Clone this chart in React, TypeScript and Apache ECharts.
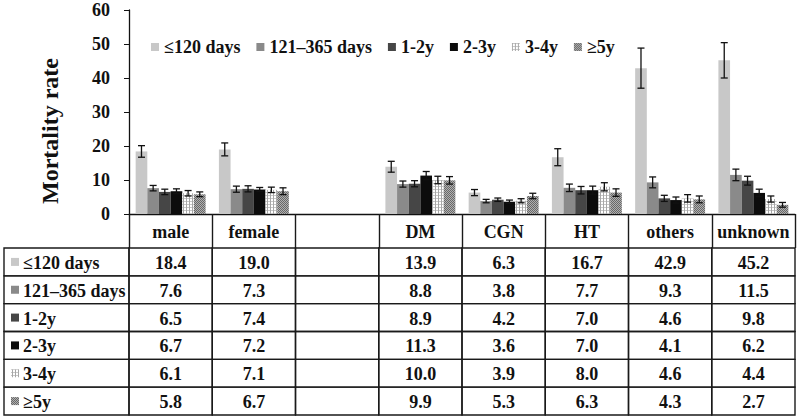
import React, { useEffect, useRef } from 'react';
import * as echarts from 'echarts';

const categories = ['male', 'female', '', 'DM', 'CGN', 'HT', 'others', 'unknown'];
const seriesNames = ['≤120 days', '121–365 days', '1-2y', '2-3y', '3-4y', '≥5y'];

const v120 = [18.4, 19.0, null, 13.9, 6.3, 16.7, 42.9, 45.2];
const v121 = [7.6, 7.3, null, 8.8, 3.8, 7.7, 9.3, 11.5];
const v12 = [6.5, 7.4, null, 8.9, 4.2, 7.0, 4.6, 9.8];
const v23 = [6.7, 7.2, null, 11.3, 3.6, 7.0, 4.1, 6.2];
const v34 = [6.1, 7.1, null, 10.0, 3.9, 8.0, 4.6, 4.4];
const v5 = [5.8, 6.7, null, 9.9, 5.3, 6.3, 4.3, 2.7];

const e120 = [1.7, 1.9, null, 1.6, 0.9, 2.5, 5.9, 5.2];
const e121 = [0.8, 0.9, null, 0.9, 0.5, 1.1, 1.6, 1.7];
const e12 = [0.8, 0.9, null, 0.9, 0.5, 1.1, 0.9, 1.3];
const e23 = [0.7, 0.6, null, 1.2, 0.5, 1.2, 0.9, 1.1];
const e34 = [0.8, 0.8, null, 1.1, 0.6, 1.2, 1.1, 0.9];
const e5 = [0.7, 1.0, null, 1.1, 0.8, 1.1, 1.0, 0.7];

const values = [v120, v121, v12, v23, v34, v5];
const errors = [e120, e121, e12, e23, e34, e5];

const FONT = '"Liberation Serif", "Times New Roman", serif';
const FS = 18;
const GAP = 0.16;

function makePattern(kind: string) {
  const c = document.createElement('canvas');
  const n = kind === 'dots' ? 3 : 4;
  c.width = n;
  c.height = n;
  const ctx = c.getContext('2d')!;
  if (kind === 'dots') {
    ctx.fillStyle = '#ffffff';
    ctx.fillRect(0, 0, n, n);
    ctx.fillStyle = '#a8a8a8';
    ctx.fillRect(0, 0, 1, n);
    ctx.fillStyle = '#c8c8c8';
    ctx.fillRect(1, 0, n - 1, 1);
  } else {
    for (let y = 0; y < n; y++) {
      for (let x = 0; x < n; x++) {
        ctx.fillStyle = (x + y) % 2 === 0 ? '#686868' : '#b0b0b0';
        ctx.fillRect(x, y, 1, 1);
      }
    }
  }
  return { image: c.toDataURL(), repeat: 'repeat', imageWidth: n, imageHeight: n } as any;
}

export default function App() {
  const ref = useRef<HTMLDivElement>(null);
  useEffect(() => {
    if (!ref.current) return;
    const chart = echarts.init(ref.current, undefined, { renderer: 'svg' });
    const colors: any[] = ['#c8c8c8', '#8a8a8a', '#464646', '#0c0c0c', makePattern('dots'), makePattern('check')];

    const barSeries = seriesNames.map((name, i) => ({
      type: 'bar',
      name,
      data: values[i],
      xAxisIndex: 0,
      yAxisIndex: 0,
      barGap: '0%',
      barCategoryGap: (GAP * 100) + '%',
      itemStyle: { color: colors[i] },
      z: 2,
    }));

    const errSeries = seriesNames.map((name, i) => {
      const data: number[][] = [];
      values[i].forEach((v, c) => {
        if (v != null && errors[i][c] != null) data.push([c, v as number, errors[i][c] as number]);
      });
      return {
        type: 'custom',
        name: 'err' + i,
        xAxisIndex: 0,
        yAxisIndex: 0,
        z: 5,
        encode: { x: 0, y: 1 },
        data,
        renderItem: (params: any, api: any) => {
          const x = api.value(0);
          const v = api.value(1);
          const e = api.value(2);
          const catW = api.size([1, 0])[0];
          const groupW = catW * (1 - GAP);
          const bw = groupW / 6;
          const off = -groupW / 2 + bw * (i + 0.5);
          const top = api.coord([x, v + e]);
          const bot = api.coord([x, v - e]);
          const cx = top[0] + off;
          const cap = 3.5;
          const st = { stroke: '#111', lineWidth: 1.3 };
          return {
            type: 'group',
            children: [
              { type: 'line', shape: { x1: cx, y1: top[1], x2: cx, y2: bot[1] }, style: st },
              { type: 'line', shape: { x1: cx - cap, y1: top[1], x2: cx + cap, y2: top[1] }, style: st },
              { type: 'line', shape: { x1: cx - cap, y1: bot[1], x2: cx + cap, y2: bot[1] }, style: st },
            ],
          };
        },
      };
    });

    const cells: { c: number; r: number; text: string }[] = [];
    values.forEach((row, r) => {
      row.forEach((v, c) => {
        cells.push({ c, r, text: v == null ? '' : (v as number).toFixed(1) });
      });
    });

    const tableSeries = {
      type: 'custom',
      name: 'table',
      xAxisIndex: 1,
      yAxisIndex: 1,
      encode: { x: 0, y: 1 },
      data: cells.map((cl) => [cl.c, cl.r]),
      renderItem: (params: any, api: any) => {
        const cl = cells[params.dataIndex];
        const p = api.coord([cl.c, cl.r]);
        const s = api.size([1, 1]);
        return {
          type: 'group',
          children: [
            {
              type: 'rect',
              shape: { x: p[0] - s[0] / 2, y: p[1] - s[1] / 2, width: s[0], height: s[1] },
              style: { fill: 'none', stroke: '#1a1a1a', lineWidth: 1.4 },
            },
            {
              type: 'text',
              x: p[0],
              y: p[1] + 1,
              style: {
                text: cl.text,
                fontSize: FS,
                fontWeight: 'bold',
                fontFamily: FONT,
                fill: '#111',
                align: 'center',
                verticalAlign: 'middle',
              },
            },
          ],
        };
      },
    };

    const labelSeries = {
      type: 'custom',
      name: 'labels',
      xAxisIndex: 2,
      yAxisIndex: 2,
      encode: { x: 0, y: 1 },
      data: seriesNames.map((_, r) => [0, r]),
      renderItem: (params: any, api: any) => {
        const r = params.dataIndex;
        const p = api.coord([0, r]);
        const s = api.size([1, 1]);
        const left = p[0] - s[0] / 2;
        return {
          type: 'group',
          children: [
            {
              type: 'rect',
              shape: { x: left, y: p[1] - s[1] / 2, width: s[0], height: s[1] },
              style: { fill: 'none', stroke: '#1a1a1a', lineWidth: 1.4 },
            },
            {
              type: 'rect',
              shape: { x: left + 7, y: p[1] - 4, width: 8, height: 8 },
              style: { fill: colors[r] },
            },
            {
              type: 'text',
              x: left + 19,
              y: p[1] + 1,
              style: {
                text: seriesNames[r],
                fontSize: FS,
                fontWeight: 'bold',
                fontFamily: FONT,
                fill: '#111',
                align: 'left',
                verticalAlign: 'middle',
              },
            },
          ],
        };
      },
    };

    const option: any = {
      animation: false,
      backgroundColor: '#ffffff',
      textStyle: { fontFamily: FONT },
      legend: {
        data: seriesNames,
        left: 146,
        top: 33,
        itemWidth: 8,
        itemHeight: 8,
        itemGap: 16,
        icon: 'rect',
        textStyle: { fontSize: FS, fontWeight: 'bold', fontFamily: FONT, color: '#111' },
      },
      graphic: [
        {
          type: 'text',
          x: 50,
          y: 131,
          rotation: Math.PI / 2,
          style: {
            text: 'Mortality rate',
            fontSize: 24,
            fontWeight: 'bold',
            fontFamily: FONT,
            fill: '#111',
            align: 'center',
            verticalAlign: 'middle',
          },
        },
      ],
      grid: [
        { left: 129, top: 10, width: 666, height: 204 },
        { left: 129, top: 248, width: 666, height: 167 },
        { left: 4, top: 248, width: 125, height: 167 },
      ],
      xAxis: [
        {
          type: 'category',
          gridIndex: 0,
          data: categories,
          axisLine: { lineStyle: { color: '#111', width: 1.4 } },
          axisTick: { show: true, length: 34, interval: 0, lineStyle: { color: '#1a1a1a', width: 1.4 } },
          axisLabel: { interval: 0, margin: 9, fontSize: FS, fontWeight: 'bold', fontFamily: FONT, color: '#111' },
        },
        { type: 'category', gridIndex: 1, data: categories, show: false },
        { type: 'category', gridIndex: 2, data: ['label'], show: false },
      ],
      yAxis: [
        {
          type: 'value',
          gridIndex: 0,
          min: 0,
          max: 60,
          interval: 10,
          splitLine: { show: false },
          axisLine: { show: true, lineStyle: { color: '#111', width: 1.3 } },
          axisTick: { show: true, length: 5, lineStyle: { color: '#111' } },
          axisLabel: { margin: 19, fontSize: FS, fontWeight: 'bold', fontFamily: FONT, color: '#111' },
        },
        { type: 'category', gridIndex: 1, data: seriesNames, inverse: true, show: false },
        { type: 'category', gridIndex: 2, data: seriesNames, inverse: true, show: false },
      ],
      series: [...barSeries, ...errSeries, tableSeries, labelSeries],
    };
    chart.setOption(option);
    return () => chart.dispose();
  }, []);
  return <div ref={ref} style={{ position: 'fixed', left: 0, top: 0, width: 800, height: 418 }} />;
}
